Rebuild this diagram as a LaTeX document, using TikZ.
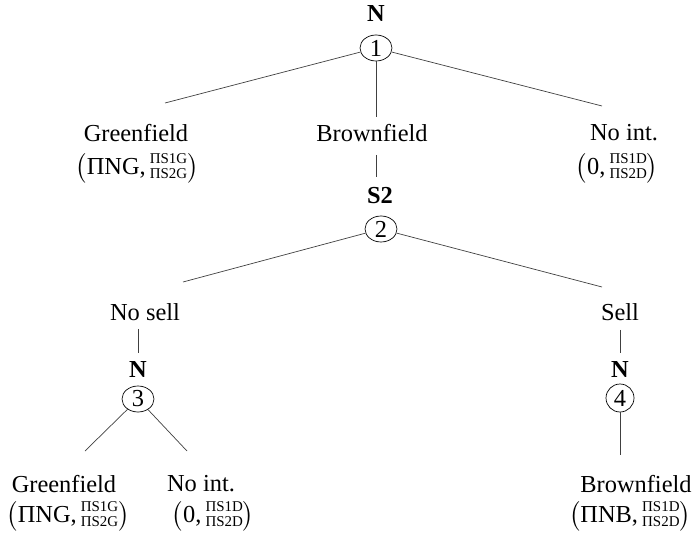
\documentclass[tikz,border=0pt]{standalone}
\usepackage{fontspec}
\setmainfont{Liberation Serif}
\usepackage{amsmath}
\usetikzlibrary{shapes.geometric}
\newcommand{\treefont}{\fontsize{24.5}{29}\selectfont}
\newcommand{\payoff}[3]{$\left(\text{#1,}\,\vcenter{\hbox{\fontsize{15}{15.5}\selectfont\begin{tabular}{@{}c@{}}#2\\#3\end{tabular}}}\right)$}

\begin{document}
\begin{tikzpicture}[x=1bp, y=-1bp, font=\treefont,
	word/.style={draw=none, inner sep=0pt, rectangle, font=\treefont},
	player/.style={draw=none, inner sep=0pt, rectangle, font=\treefont\bfseries},
	chance/.style={draw, ellipse, line width=0.7bp, minimum width=32bp, minimum height=26bp, inner sep=0pt, font=\treefont},
	branchLine/.style={line width=0.7bp, color=black!75}
	]
	\useasboundingbox (0,0) rectangle (696,533);

	% first move of nature
	\node[player](nOne) at (376,14) {N};
	\node[chance](one) at (376,48) {1};
	\coordinate (gfOneEnd) at (165,103);
	\coordinate (bfOneEnd) at (376,117);
	\coordinate (niOneEnd) at (602,106);
	\draw [branchLine] (one) to [] (gfOneEnd);
	\draw [branchLine] (one) to [] (bfOneEnd);
	\draw [branchLine] (one) to [] (niOneEnd);

	\node[word](gfOne) at (136,133) {Greenfield};
	\node[word](gfOnePay) at (137,168) {\payoff{ΠNG}{ΠS1G}{ΠS2G}};
	\node[word](bfOne) at (372,133) {Brownfield};
	\node[word](niOne) at (624,133) {No int.};
	\node[word](niOnePay) at (617,168) {\payoff{0}{ΠS1D}{ΠS2D}};

	% second player
	\node[player](sTwo) at (380,196) {S2};
	\node[chance](two) at (381,229) {2};
	\draw [branchLine, shorten <=13bp, shorten >=11bp] (bfOne.south -| one) to [] (sTwo.north -| one);
	\coordinate (noSellEnd) at (183,282);
	\coordinate (sellEnd) at (602,287);
	\draw [branchLine] (two) to [] (noSellEnd);
	\draw [branchLine] (two) to [] (sellEnd);

	\node[word](noSell) at (145,312) {No sell};
	\node[word](sell) at (620,312) {Sell};

	% nature after no sell
	\node[player](nThree) at (138,370) {N};
	\node[chance](three) at (138,399) {3};
	\draw [branchLine, shorten <=8bp, shorten >=9bp] (noSell.south -| nThree) to [] (nThree.north);
	\coordinate (gfTwoEnd) at (85,451);
	\coordinate (niTwoEnd) at (187,451);
	\draw [branchLine] (three) to [] (gfTwoEnd);
	\draw [branchLine] (three) to [] (niTwoEnd);

	\node[word](gfTwo) at (64,484) {Greenfield};
	\node[word](gfTwoPay) at (68,516) {\payoff{ΠNG}{ΠS1G}{ΠS2G}};
	\node[word](niTwo) at (201,484) {No int.};
	\node[word](niTwoPay) at (213,516) {\payoff{0}{ΠS1D}{ΠS2D}};

	% nature after sell
	\node[player](nFour) at (620,370) {N};
	\node[chance, minimum width=28bp, minimum height=28bp](four) at (620,398) {4};
	\draw [branchLine, shorten <=9bp, shorten >=9bp] (sell.south) to [] (nFour.north);
	\coordinate (bfTwoEnd) at (620,455);
	\draw [branchLine] (four) to [] (bfTwoEnd);

	\node[word](bfTwo) at (636,484) {Brownfield};
	\node[word](bfTwoPay) at (630,516) {\payoff{ΠNB}{ΠS1D}{ΠS2D}};
\end{tikzpicture}
\end{document}
